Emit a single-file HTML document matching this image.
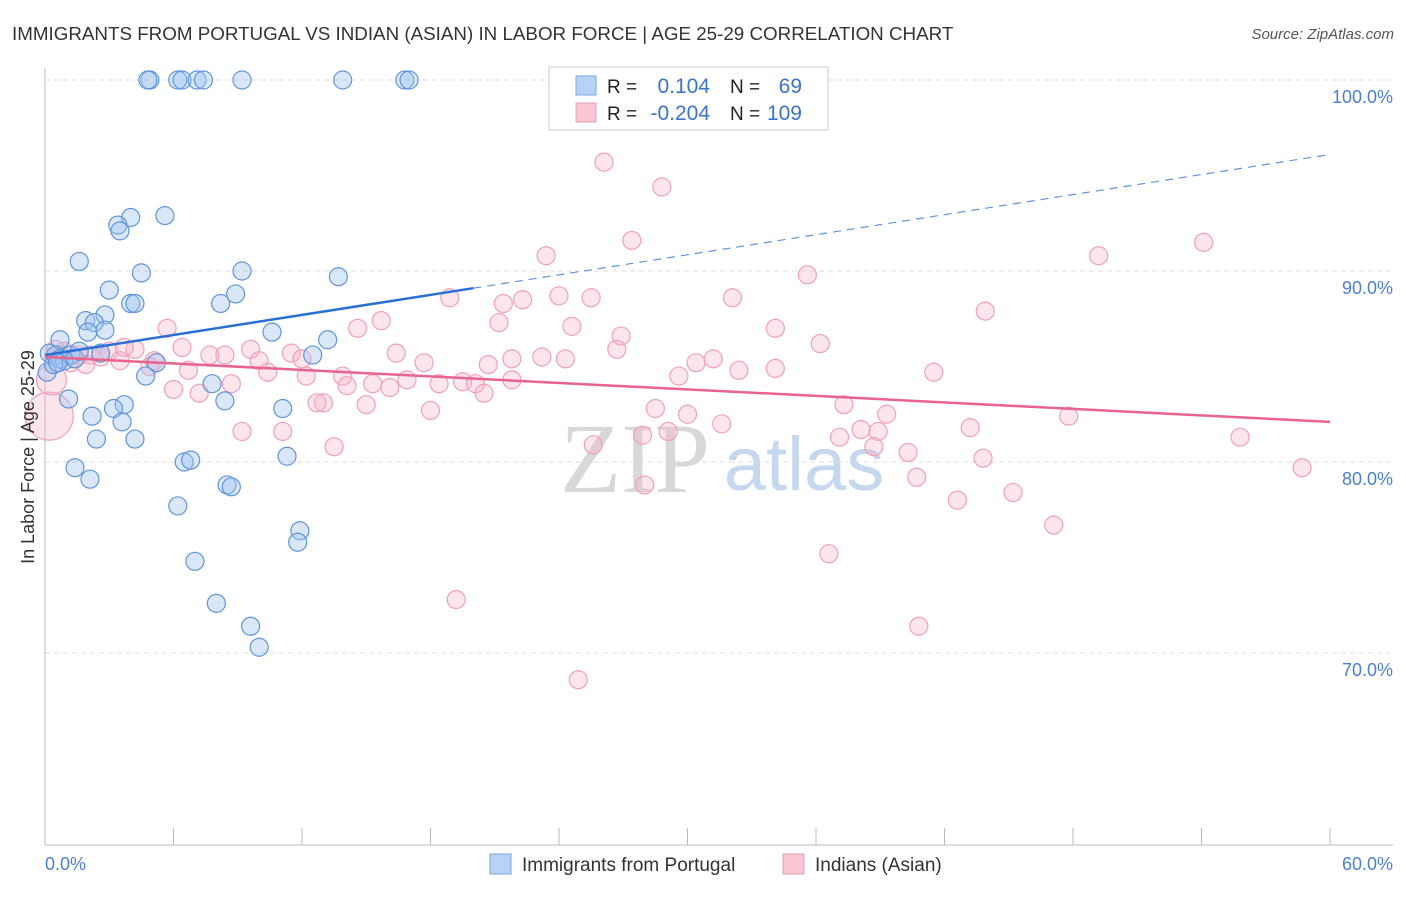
<!DOCTYPE html>
<html><head><meta charset="utf-8"><style>
body{margin:0;background:#fff;font-family:"Liberation Sans",sans-serif;}
</style></head><body>
<svg width="1406" height="892" xmlns="http://www.w3.org/2000/svg" id="svg">
<text x="12" y="40" font-size="18.8" fill="#333">IMMIGRANTS FROM PORTUGAL VS INDIAN (ASIAN) IN LABOR FORCE | AGE 25-29 CORRELATION CHART</text>
<text x="1394" y="39" font-size="15" fill="#555" text-anchor="end" font-style="italic">Source: ZipAtlas.com</text>
<g><text x="635" y="492" font-size="100" fill="#d8d8d8" text-anchor="middle" font-family="Liberation Serif,serif">ZIP</text><text x="804" y="490" font-size="76" fill="#c5d8ef" text-anchor="middle">atlas</text></g>
<g id="grid"></g><g id="axes"></g><g id="pts"></g><g id="trend"></g>
<text transform="translate(34,457) rotate(-90)" font-size="18" fill="#333" text-anchor="middle">In Labor Force | Age 25-29</text>
<g>
<rect x="549" y="67" width="279" height="63" fill="#fff" stroke="#ccc"/>
<rect x="576" y="76" width="20" height="19" fill="#b8d2f4" stroke="#7aa8e0"/>
<rect x="576" y="103" width="20" height="19" fill="#f9c6d4" stroke="#ee9db6"/>
<text x="607" y="93" font-size="19" fill="#222">R = </text><text x="710" y="93" font-size="21" fill="#3b73cf" text-anchor="end">0.104</text>
<text x="730" y="93" font-size="19" fill="#222">N = </text><text x="802" y="93" font-size="21" fill="#3b73cf" text-anchor="end">69</text>
<text x="607" y="120" font-size="19" fill="#222">R = </text><text x="710" y="120" font-size="21" fill="#3b73cf" text-anchor="end">-0.204</text>
<text x="730" y="120" font-size="19" fill="#222">N = </text><text x="802" y="120" font-size="21" fill="#3b73cf" text-anchor="end">109</text>
</g>
<g>
<rect x="490" y="854" width="21" height="20" fill="#b8d2f4" stroke="#7aa8e0"/><text x="522" y="871" font-size="19" fill="#333">Immigrants from Portugal</text>
<rect x="783" y="854" width="21" height="20" fill="#f9c6d4" stroke="#ee9db6"/><text x="815" y="871" font-size="19" fill="#333">Indians (Asian)</text>
</g>
</svg>
<script>
const yTicks=[100,90,80,70];
const yTickLabels=["100.0%","90.0%","80.0%","70.0%"];
const xEnds=[0,60];
const xEndLabels=["0.0%","60.0%"];
const blueX=[4.9,4.8,6.2,6.4,7.1,7.4,9.2,13.9,16.8,17.0,5.6,4.0,3.4,3.5,1.6,4.5,9.2,13.7,3.0,4.0,4.2,8.2,8.9,1.9,2.8,2.3,2.0,2.8,0.7,10.6,13.2,0.2,0.5,0.7,0.9,1.2,1.4,1.6,2.6,5.2,4.7,12.5,7.8,8.4,1.1,2.2,3.7,3.2,3.6,11.1,2.4,4.2,1.4,2.1,6.5,6.8,11.3,8.5,8.7,6.2,11.9,11.8,7.0,8.0,9.6,10.0,0.1,0.4,0.6];
const blueY=[100,100,100,100,100,100,100,100,100,100,92.9,92.8,92.4,92.1,90.5,89.9,90.0,89.7,89.0,88.3,88.3,88.3,88.8,87.4,87.7,87.3,86.8,86.9,86.4,86.8,86.4,85.7,85.6,85.4,85.3,85.6,85.4,85.8,85.7,85.2,84.5,85.6,84.1,83.2,83.3,82.4,83.0,82.8,82.1,82.8,81.2,81.2,79.7,79.1,80.0,80.1,80.3,78.8,78.7,77.7,76.4,75.8,74.8,72.6,71.4,70.3,84.7,85.1,85.2];
const pinkX=[26.1,28.8,27.4,23.4,54.1,49.2,35.6,18.9,21.4,22.3,24.0,25.5,32.1,43.9,15.7,14.6,21.2,24.6,26.9,34.1,36.2,5.7,6.4,9.6,7.7,8.4,10.0,11.5,12.0,16.4,17.7,20.7,21.8,23.2,24.3,26.7,30.4,31.2,6.7,10.4,12.2,13.9,14.1,15.3,16.1,16.9,18.4,19.5,20.1,20.5,21.8,29.6,32.4,34.1,41.5,6.0,7.2,8.7,13.0,12.7,15.0,18.0,28.5,30.0,31.6,37.3,39.3,47.8,9.2,11.1,13.5,25.6,27.9,29.1,37.1,38.1,38.9,38.7,43.2,40.3,43.8,55.8,58.7,40.7,28.0,42.6,45.2,47.1,36.6,19.2,40.8,24.9,0.5,0.9,1.6,2.1,2.6,3.0,3.5,4.2,4.9,5.1,1.2,1.9,3.7,0.7,0.2,0.3];
const pinkY=[95.7,94.4,91.6,90.8,91.5,90.8,89.8,88.6,88.3,88.5,88.7,88.6,88.6,87.9,87.4,87.0,87.3,87.1,86.6,87.0,86.2,87.0,86.0,85.9,85.6,85.6,85.3,85.7,85.4,85.7,85.2,85.1,85.4,85.5,85.4,85.9,85.2,85.4,84.8,84.7,84.5,84.5,84.0,84.1,83.9,84.3,84.1,84.2,84.1,83.6,84.3,84.5,84.8,84.9,84.7,83.8,83.6,84.1,83.1,83.1,83.0,82.7,82.8,82.5,82.0,83.0,82.5,82.4,81.6,81.6,80.8,80.9,81.4,81.6,81.3,81.7,81.6,80.8,81.8,80.5,80.2,81.3,79.7,79.2,78.8,78.0,78.4,76.7,75.2,72.8,71.4,68.6,85.9,85.8,85.6,85.6,85.5,85.8,85.3,85.9,85.0,85.3,85.2,85.1,86.0,85.6,82.4,84.3];
const pinkR=[];for(let i=0;i<pinkX.length;i++)pinkR.push(9);pinkR[pinkR.length-2]=24;pinkR[pinkR.length-1]=15;
const blueTrend=[85.6,96.1];const blueSolidEnd=20;
const pinkTrend=[85.5,82.1];
const NS='http://www.w3.org/2000/svg';
const sx=v=>45+v*1285/60, sy=v=>80+(100-v)*19.1;
function mk(t,a,p){const e=document.createElementNS(NS,t);for(const k in a)e.setAttribute(k,a[k]);document.getElementById(p).appendChild(e);return e;}
yTicks.forEach((t,i)=>{const l=mk('line',{x1:45,x2:1393,y1:sy(t),y2:sy(t),stroke:'#ddd','stroke-dasharray':'5,4'},'grid');


const tx=mk('text',{x:1393,y:sy(t)+23,'font-size':18,fill:'#4a7fd6','text-anchor':'end'},'axes');tx.textContent=yTickLabels[i];

});
mk('line',{x1:45,x2:45,y1:68,y2:845,stroke:'#bbb'},'axes');
mk('line',{x1:45,x2:1393,y1:845,y2:845,stroke:'#bbb'},'axes');
for(let i=1;i<=10;i++){const x=sx(i*6);mk('line',{x1:x,x2:x,y1:828,y2:845,stroke:'#bbb'},'axes');}
xEnds.forEach((v,i)=>{const t=mk('text',{x:i?1393:45,y:870,'font-size':18,fill:'#4a7fd6','text-anchor':i?'end':'start'},'axes');t.textContent=xEndLabels[i];

});
pinkX.forEach((v,i)=>{const c=mk('circle',{cx:sx(v),cy:sy(pinkY[i]),r:pinkR[i],fill:'rgba(248,180,200,0.35)',stroke:'#f0a0b8','stroke-width':1.2},'pts');

});
blueX.forEach((v,i)=>{const c=mk('circle',{cx:sx(v),cy:sy(blueY[i]),r:9,fill:'rgba(160,195,240,0.4)',stroke:'#5e95dc','stroke-width':1.2},'pts');

});
const by=x=>blueTrend[0]+(blueTrend[1]-blueTrend[0])*x/60;
let l1=mk('line',{x1:sx(0),y1:sy(by(0)),x2:sx(blueSolidEnd),y2:sy(by(blueSolidEnd)),stroke:'#2a6fd6','stroke-width':2.5},'trend');


let l2=mk('line',{x1:sx(blueSolidEnd),y1:sy(by(blueSolidEnd)),x2:sx(60),y2:sy(by(60)),stroke:'#5e95dc','stroke-width':1.2,'stroke-dasharray':'8,6'},'trend');


let l3=mk('line',{x1:sx(0),y1:sy(pinkTrend[0]),x2:sx(60),y2:sy(pinkTrend[1]),stroke:'#e8638e','stroke-width':2.5},'trend');


</script>
</body></html>
